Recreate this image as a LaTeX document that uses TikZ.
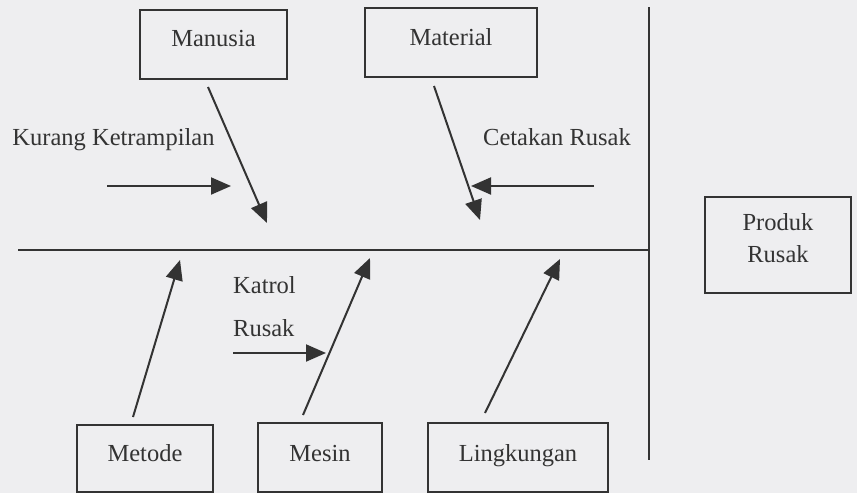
\documentclass[tikz,border=0pt]{standalone}
\usepackage{fontspec}
\setmainfont{Liberation Serif}
\usetikzlibrary{arrows.meta}
\definecolor{bg}{HTML}{EEEEF0}
\definecolor{ink}{HTML}{333333}
\begin{document}
\begin{tikzpicture}[x=1pt,y=-1pt,
  box/.style={draw=ink, line width=1.8pt, rectangle, inner sep=0pt},
  lbl/.style={text=ink, font=\fontsize{24.5}{29}\selectfont, inner sep=0pt},
  arr/.style={draw=ink, line width=2pt, -{Triangle[length=20pt,width=17pt]}},
  ln/.style={draw=ink, line width=2pt}]
\fill[bg] (0,0) rectangle (857,493);
\useasboundingbox (0,0) rectangle (857,493);
% boxes
\node[box, minimum width=147pt, minimum height=69pt] (man) at (213.5,44.5) {};
\node[lbl, anchor=base] (manT) at (213.5,46) {Manusia};
\node[box, minimum width=172pt, minimum height=69pt] (mat) at (451,42.5) {};
\node[lbl, anchor=base] (matT) at (451,45) {Material};
\node[box, minimum width=146pt, minimum height=96pt] (prod) at (778,245) {};
\node[lbl, align=center] (prodT) at (778,238) {Produk\\[3pt]Rusak};
\node[box, minimum width=136pt, minimum height=67pt] (met) at (145,458.5) {};
\node[lbl, anchor=base] (metT) at (145,461) {Metode};
\node[box, minimum width=124pt, minimum height=69pt] (mes) at (320,457.5) {};
\node[lbl, anchor=base] (mesT) at (320,461) {Mesin};
\node[box, minimum width=180pt, minimum height=69pt] (lin) at (518,457.5) {};
\node[lbl, anchor=base] (linT) at (518,461) {Lingkungan};
% spine and head line
\coordinate (sL) at (18,250);
\coordinate (sR) at (649,250);
\coordinate (vT) at (649,7);
\coordinate (vB) at (649,460);
\draw[ln] (sL) -- (sR);
\draw[ln] (vT) -- (vB);
% sub-cause texts
\node[lbl] (kur) at (113.5,140) {Kurang Ketrampilan};
\node[lbl] (cet) at (557,137) {Cetakan Rusak};
\node[lbl, anchor=west] (kat) at (233,285) {Katrol};
\node[lbl, anchor=west] (rus) at (233,328) {Rusak};
% main bones
\coordinate (manS) at (208,87);
\coordinate (manE) at (267,223);
\draw[arr] (manS) -- (manE);
\coordinate (matS) at (434,86);
\coordinate (matE) at (480,220);
\draw[arr] (matS) -- (matE);
\coordinate (metS) at (133,417);
\coordinate (metE) at (180,260);
\draw[arr] (metS) -- (metE);
\coordinate (mesS) at (303,415);
\coordinate (mesE) at (370,258);
\draw[arr] (mesS) -- (mesE);
\coordinate (linS) at (485,413);
\coordinate (linE) at (560,259);
\draw[arr] (linS) -- (linE);
% small bones
\coordinate (kurS) at (107,186);
\coordinate (kurE) at (231,186);
\draw[arr] (kurS) -- (kurE);
\coordinate (cetS) at (594,186);
\coordinate (cetE) at (471,186);
\draw[arr] (cetS) -- (cetE);
\coordinate (katS) at (233,353);
\coordinate (katE) at (326,353);
\draw[arr] (katS) -- (katE);
\end{tikzpicture}
\end{document}
